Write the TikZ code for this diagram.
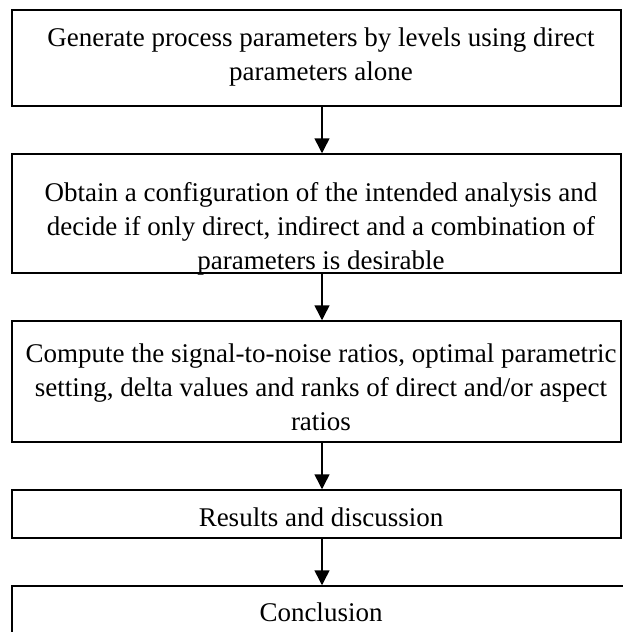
\documentclass[tikz,border=0pt]{standalone}
\usepackage{fontspec}
\setmainfont{Liberation Serif}
\usetikzlibrary{arrows.meta}
\begin{document}
\begin{tikzpicture}[x=1pt,y=-1pt,
  box/.style={draw=black,line width=1.5pt,inner sep=0pt},
  txt/.style={inner sep=0pt,align=center,font=\fontsize{27}{34}\selectfont},
  flow/.style={draw=black,line width=1.5pt,-{Triangle[length=15pt,width=15pt]}}]
\useasboundingbox (0,0) rectangle (622,632);
\fill[white] (0,0) rectangle (622,632);
\node[txt] (t1) at (321,57) {Generate process parameters by levels using direct\\parameters alone};
\node[txt] (t2) at (321,229) {Obtain a configuration of the intended analysis and\\decide if only direct, indirect and a combination of\\parameters is desirable};
\node[txt] (t3) at (321,387) {Compute the signal-to-noise ratios, optimal parametric\\setting, delta values and ranks of direct and/or aspect\\ratios};
\node[txt] (t4) at (321,517) {Results and discussion};
\node[txt] (t5) at (321,612) {Conclusion};
\node[box,minimum width=609pt,minimum height=96pt] (b1) at (316.5,58) {};
\node[box,minimum width=609pt,minimum height=119pt,fill=none] (b2) at (316.5,213.5) {};
\node[box,minimum width=609pt,minimum height=121pt] (b3) at (316.5,381.5) {};
\node[box,minimum width=609pt,minimum height=48pt] (b4) at (316.5,514) {};
\node[box,minimum width=620pt,minimum height=100pt] (b5) at (322,636) {};
\coordinate (a1) at (322,0);
\draw[flow] (b1.south -| a1) -- (b2.north -| a1);
\draw[flow] (b2.south -| a1) -- (b3.north -| a1);
\draw[flow] (b3.south -| a1) -- (b4.north -| a1);
\draw[flow] (b4.south -| a1) -- (b5.north -| a1);
\end{tikzpicture}
\end{document}
